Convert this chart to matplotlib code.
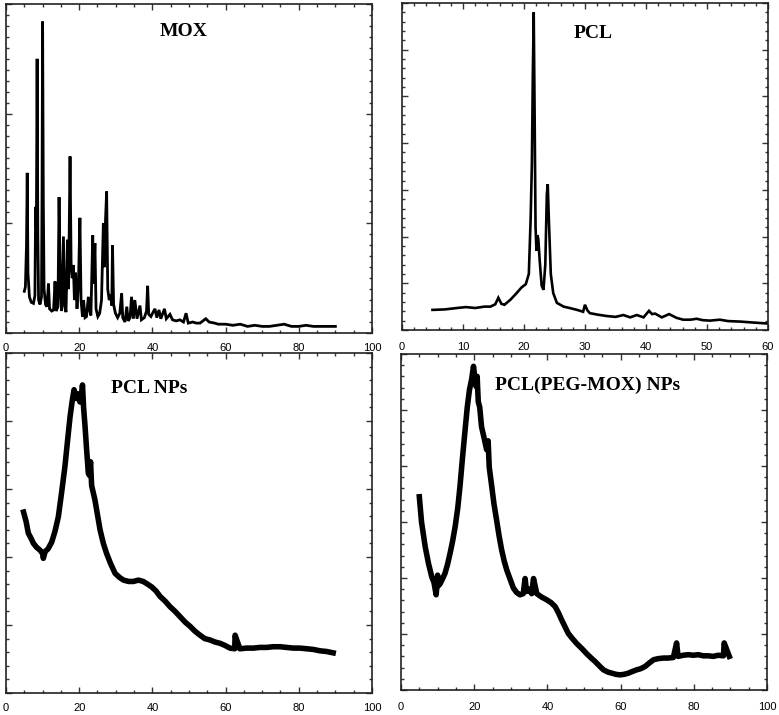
import matplotlib
matplotlib.use("Agg")
import matplotlib.pyplot as plt
from matplotlib.ticker import MultipleLocator

# MOX diffractogram (2 theta, counts in arbitrary units)
mox_x = [5.0, 5.3, 5.6, 5.8, 6.0, 6.4, 6.9, 7.5, 7.9, 8.1, 8.3, 8.5, 8.7, 8.9,
         9.3, 9.7, 9.85, 10.0, 10.2, 10.4, 10.8, 11.2, 11.6, 11.9, 12.5, 13.0,
         13.4, 13.7, 14.2, 14.5, 14.8, 15.2, 15.7, 16.0, 16.4, 16.8, 17.1, 17.5,
         17.8, 18.1, 18.4, 18.7, 19.0, 19.4, 19.8, 20.2, 20.5, 20.9, 21.2, 21.6,
         22.0, 22.5, 22.9, 23.2, 23.7, 23.95, 24.3, 24.6, 25.1, 25.6, 26.1,
         26.6, 26.9, 27.2, 27.5, 27.8, 28.2, 28.6, 28.9, 29.1, 29.4, 29.9, 30.5,
         31.1, 31.6, 31.9, 32.5, 33.0, 33.4, 33.9, 34.3, 34.8, 35.2, 35.8, 36.6,
         37.0, 37.8, 38.4, 38.7, 39.0, 39.6, 40.2, 40.7, 41.2, 41.8, 42.3, 43.3,
         43.8, 44.8, 45.5, 46.5, 47.5, 48.5, 49.2, 49.8, 51.0, 52.0, 53.0, 54.6,
         55.5, 57.0, 58.0, 60.0, 62.0, 64.0, 66.0, 68.0, 70.0, 72.0, 74.0, 76.0,
         78.0, 80.0, 82.0, 84.0, 86.0, 88.0, 90.0]
mox_y = [0.38, 0.42, 0.80, 1.46, 0.55, 0.33, 0.28, 0.27, 0.34, 1.15, 0.95, 2.50,
         0.90, 0.30, 0.26, 0.33, 1.30, 2.84, 1.20, 0.40, 0.26, 0.24, 0.45, 0.22,
         0.20, 0.21, 0.47, 0.20, 0.24, 1.24, 0.45, 0.20, 0.88, 0.25, 0.19, 0.85,
         0.40, 1.61, 0.60, 0.50, 0.62, 0.30, 0.55, 0.22, 0.45, 1.05, 0.30, 0.15,
         0.30, 0.14, 0.15, 0.33, 0.20, 0.16, 0.89, 0.45, 0.82, 0.22, 0.15, 0.18,
         0.30, 1.00, 0.60, 1.04, 1.29, 0.40, 0.30, 0.35, 0.25, 0.80, 0.26, 0.18,
         0.14, 0.18, 0.36, 0.14, 0.10, 0.24, 0.11, 0.14, 0.33, 0.13, 0.30, 0.13,
         0.25, 0.12, 0.14, 0.20, 0.43, 0.17, 0.15, 0.19, 0.22, 0.14, 0.21, 0.13,
         0.22, 0.13, 0.17, 0.12, 0.11, 0.12, 0.10, 0.18, 0.09, 0.10, 0.09, 0.09,
         0.13, 0.10, 0.09, 0.08, 0.08, 0.07, 0.08, 0.06, 0.07, 0.06, 0.06, 0.07,
         0.08, 0.06, 0.06, 0.07, 0.06, 0.06, 0.06, 0.06]

# PCL diffractogram
pcl_x = [5.0, 7.0, 9.0, 10.5, 12.0, 13.5, 14.5, 15.3, 15.8, 16.3, 16.8, 17.8,
         18.8, 19.6, 20.3, 20.8, 21.1, 21.3, 21.45, 21.6, 21.75, 21.9, 22.05,
         22.2, 22.35, 22.6, 22.9, 23.2, 23.5, 23.75, 23.9, 24.1, 24.4, 24.8,
         25.4, 26.5, 27.5, 28.7, 29.7, 30.0, 30.4, 30.8, 32.0, 33.5, 35.0, 36.3,
         37.4, 38.5, 39.6, 40.5, 41.0, 41.5, 42.6, 43.8, 45.0, 46.1, 47.3, 48.3,
         49.3, 50.5, 52.1, 53.5, 55.4, 57.5, 59.8]
pcl_y = [0.43, 0.44, 0.47, 0.49, 0.47, 0.50, 0.50, 0.55, 0.69, 0.56, 0.54, 0.65,
         0.79, 0.91, 0.98, 1.20, 2.40, 3.57, 5.40, 6.80, 4.60, 2.20, 1.70, 2.03,
         1.95, 1.45, 0.95, 0.86, 1.40, 2.90, 3.12, 2.30, 1.20, 0.79, 0.58, 0.50,
         0.47, 0.43, 0.39, 0.54, 0.42, 0.36, 0.33, 0.30, 0.28, 0.32, 0.27, 0.32,
         0.27, 0.41, 0.34, 0.35, 0.27, 0.34, 0.26, 0.22, 0.22, 0.24, 0.21, 0.20,
         0.22, 0.19, 0.18, 0.16, 0.14]

# PCL NPs diffractogram
pcl_np_x = [4.8, 5.5, 6.1, 6.8, 7.5, 8.4, 9.3, 10.0, 10.2, 10.7, 11.5, 12.5,
            13.4, 14.3, 15.2, 16.1, 16.8, 17.5, 18.1, 18.6, 19.0, 19.3, 19.7,
            20.2, 20.6, 20.9, 21.2, 21.6, 22.0, 22.5, 22.8, 23.1, 23.4, 24.3,
            25.0, 25.7, 26.6, 27.5, 28.6, 29.8, 31.0, 32.1, 33.5, 34.8, 36.2,
            37.5, 38.7, 39.8, 41.0, 42.1, 43.5, 44.8, 46.2, 47.6, 49.0, 50.3,
            51.6, 53.0, 54.3, 55.7, 57.1, 58.5, 59.8, 61.2, 62.5, 62.6, 63.9,
            65.7, 67.6, 69.4, 71.2, 73.0, 74.9, 76.7, 78.5, 80.3, 82.2, 84.0,
            85.8, 87.6, 89.4]
pcl_np_y = [2.66, 2.52, 2.35, 2.28, 2.20, 2.14, 2.10, 2.05, 1.98, 2.08, 2.12,
            2.22, 2.38, 2.59, 2.95, 3.33, 3.70, 4.06, 4.30, 4.46, 4.38, 4.33,
            4.40, 4.28, 4.36, 4.53, 4.20, 3.92, 3.60, 3.23, 3.20, 3.40, 3.05,
            2.84, 2.62, 2.40, 2.20, 2.05, 1.90, 1.76, 1.70, 1.66, 1.64, 1.64,
            1.66, 1.64, 1.60, 1.56, 1.50, 1.42, 1.35, 1.27, 1.20, 1.12, 1.04,
            0.98, 0.91, 0.85, 0.80, 0.78, 0.75, 0.73, 0.70, 0.66, 0.65, 0.85,
            0.65, 0.66, 0.66, 0.67, 0.67, 0.68, 0.68, 0.67, 0.66, 0.66, 0.65,
            0.64, 0.62, 0.61, 0.59]

# PCL(PEG-MOX) NPs diffractogram
peg_np_x = [5.0, 5.6, 6.6, 7.5, 8.4, 9.0, 9.6, 10.0, 10.2, 10.7, 11.3, 12.0,
            12.7, 13.4, 14.1, 14.8, 15.5, 16.1, 16.8, 17.5, 18.1, 18.7, 19.3,
            19.8, 20.2, 20.5, 20.8, 21.1, 21.5, 22.0, 22.7, 23.4, 23.8, 24.1,
            24.8, 25.4, 26.1, 26.8, 27.5, 28.2, 28.9, 29.8, 30.7, 31.6, 32.5,
            33.4, 33.9, 34.3, 35.0, 35.7, 36.2, 37.1, 38.4, 39.8, 41.0, 42.1,
            43.0, 43.9, 44.8, 45.7, 46.8, 48.0, 49.4, 50.7, 51.8, 53.0, 54.2,
            55.3, 56.5, 57.6, 58.7, 59.8, 61.0, 62.1, 63.2, 64.4, 65.5, 66.7,
            67.8, 69.0, 70.3, 71.7, 73.0, 74.4, 75.3, 75.7, 77.1, 78.5, 79.9,
            81.2, 82.6, 84.0, 85.3, 86.7, 88.1, 88.3, 89.7]
peg_np_y = [3.45, 3.00, 2.56, 2.26, 2.02, 1.92, 1.70, 2.05, 1.86, 1.90, 1.98,
            2.08, 2.24, 2.44, 2.66, 2.92, 3.25, 3.63, 4.15, 4.64, 5.05, 5.36,
            5.55, 5.78, 5.55, 5.42, 5.60, 5.15, 5.05, 4.70, 4.50, 4.29, 4.45,
            3.98, 3.63, 3.32, 3.04, 2.75, 2.50, 2.30, 2.14, 1.98, 1.82, 1.74,
            1.70, 1.72, 1.99, 1.76, 1.80, 1.72, 1.99, 1.72, 1.66, 1.61, 1.56,
            1.49, 1.38, 1.25, 1.13, 1.01, 0.92, 0.83, 0.74, 0.65, 0.58, 0.51,
            0.43, 0.36, 0.32, 0.30, 0.28, 0.27, 0.28, 0.30, 0.33, 0.36, 0.38,
            0.42, 0.48, 0.54, 0.56, 0.57, 0.57, 0.58, 0.84, 0.60, 0.62, 0.63,
            0.62, 0.63, 0.61, 0.61, 0.60, 0.62, 0.61, 0.84, 0.60]

panels = [
    # data, title, rect, xlim, x major/minor, ylim, y major/minor, line width, join, title pos, label pad
    (mox_x, mox_y, 'MOX', [0.0077, 0.5343, 0.4698, 0.4601],
     (0, 100), (20, 5), (0, 3), (1, 0.1), 2.0, 'miter', (0.484, 0.915), 7.5),
    (pcl_x, pcl_y, 'PCL', [0.5160, 0.5385, 0.4698, 0.4573],
     (0, 60), (10, 2), (0, 7), (1, 0.2), 1.9, 'miter', (0.522, 0.908), 9),
    (pcl_np_x, pcl_np_y, 'PCL NPs', [0.0077, 0.0308, 0.4698, 0.4755],
     (0, 100), (20, 5), (0, 5), (1, 0.2), 4.0, 'round', (0.392, 0.897), 7.5),
    (peg_np_x, peg_np_y, 'PCL(PEG-MOX) NPs', [0.5148, 0.0350, 0.4698, 0.4699],
     (0, 100), (20, 5), (0, 6), (1, 0.2), 4.0, 'round', (0.51, 0.908), 9),
]

fig = plt.figure(figsize=(7.79, 7.15), dpi=100)

for xs, ys, title, rect, xlim, xt, ylim, yt, lw, join, tpos, pad in panels:
    ax = fig.add_axes(rect)
    ax.plot(xs, ys, color='black', linewidth=lw, solid_joinstyle=join)
    ax.set_xlim(*xlim)
    ax.set_ylim(*ylim)
    ax.xaxis.set_major_locator(MultipleLocator(xt[0]))
    ax.xaxis.set_minor_locator(MultipleLocator(xt[1]))
    ax.yaxis.set_major_locator(MultipleLocator(yt[0]))
    ax.yaxis.set_minor_locator(MultipleLocator(yt[1]))
    ax.tick_params(which='both', direction='in', top=True, right=True,
                   width=1.0, colors='#333333')
    ax.tick_params(which='major', length=4)
    ax.tick_params(which='minor', length=2)
    ax.tick_params(axis='x', which='major', pad=pad, labelsize=8,
                   labelcolor='black')
    ax.tick_params(axis='y', labelleft=False)
    for lab in ax.get_xticklabels():
        lab.set_family('Liberation Sans')
    for sp in ax.spines.values():
        sp.set_linewidth(1.2)
        sp.set_color('#222222')
    ax.text(tpos[0], tpos[1], title, transform=ax.transAxes, ha='center',
            va='center', fontsize=14, fontweight='bold',
            family='Liberation Serif')

plt.savefig('out.png', dpi=100)
